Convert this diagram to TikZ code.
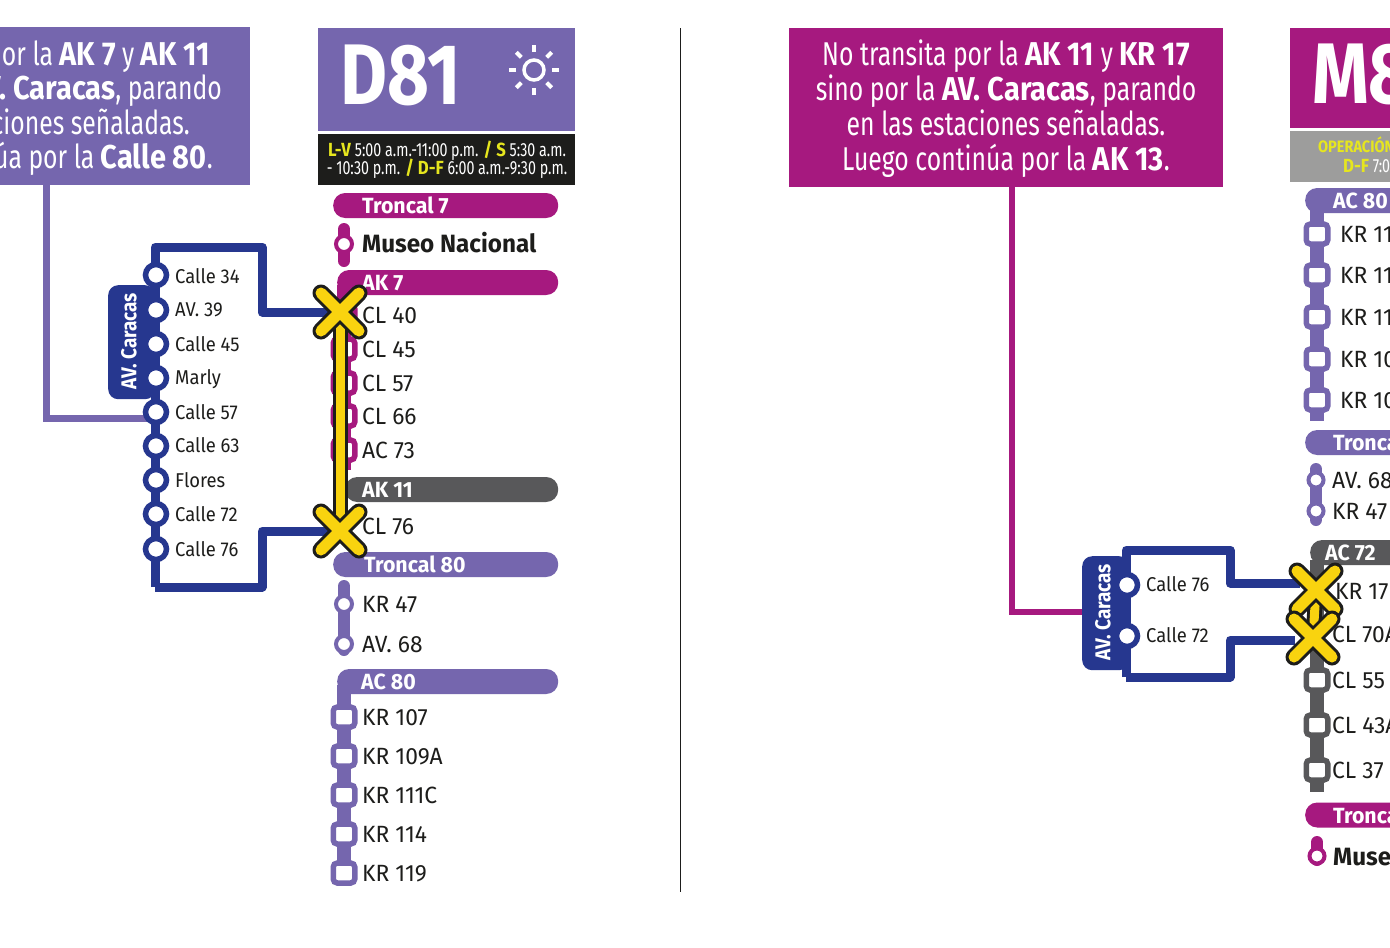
\documentclass[tikz,border=0pt]{standalone}
\usepackage{fontspec}
\newfontfamily\narrowfont{Fira Sans}[UprightFeatures={FakeStretch=0.75}, BoldFeatures={FakeStretch=0.88}]
\newfontfamily\titlefont{Fira Sans}[FakeStretch=0.84]
\newfontfamily\labelfont{Fira Sans}[FakeStretch=0.92]
\newfontfamily\stopfont{Fira Sans}[FakeStretch=0.97]
\definecolor{routepurple}{HTML}{7566AE}
\definecolor{routemagenta}{HTML}{A6197F}
\definecolor{routegray}{HTML}{58585A}
\definecolor{routeblue}{HTML}{26378F}
\definecolor{headgray}{HTML}{9D9D9C}
\definecolor{headblack}{HTML}{1D1D1B}
\definecolor{crossyellow}{HTML}{F9D30F}
\definecolor{timeyellow}{HTML}{E6E61E}
\newcommand{\fsize}[1]{\fontsize{#1}{#1}\selectfont}
\tikzset{
    panel/.style={fill=#1, inner sep=0pt, anchor=north west},
    pill/.style={fill=#1, rounded corners=12pt, minimum height=25pt, inner sep=0pt, anchor=west},
    pilltext/.style={text=white, anchor=west, inner sep=0pt, text height=16pt, text depth=0pt, font=\stopfont\bfseries\fsize{22}},
    trunk/.style={draw=#1, line width=14pt},
    stem/.style={draw=#1, line width=12pt, line cap=round},
    squarestop/.style={draw=#1, fill=white, line width=5.5pt, rounded corners=4pt, minimum width=21.5pt, minimum height=20pt, inner sep=0pt},
    roundstop/.style={draw=#1, fill=white, circle, line width=4pt, minimum size=16pt, inner sep=0pt},
    bluestop/.style={draw=routeblue, fill=white, circle, line width=5.5pt, minimum size=21pt, inner sep=0pt},
    stoptext/.style={text=headblack, anchor=west, inner sep=0pt, text height=16pt, text depth=0pt, font=\stopfont\fsize{23.5}},
    caracastext/.style={text=headblack, anchor=west, inner sep=0pt, text height=14pt, text depth=0pt, font=\labelfont\fsize{20}},
    callouttext/.style={text=white, inner sep=0pt, text height=23pt, text depth=0pt, font=\narrowfont\fsize{33}},
    timetext/.style={text=white, inner sep=0pt, text height=13pt, text depth=0pt, font=\narrowfont\fsize{19}},
    titletext/.style={text=white, anchor=west, inner sep=0pt, text height=58pt, text depth=0pt, font=\titlefont\bfseries\fsize{86}},
    blueline/.style={draw=routeblue, line width=9pt, line join=round},
    feeder/.style={draw=#1, line width=7pt},
    caracastab/.style={fill=routeblue, rounded corners=10pt, inner sep=0pt, anchor=north west, minimum width=47pt, minimum height=114pt},
    taptext/.style={text=white, rotate=90, inner sep=0pt, font=\narrowfont\bfseries\fsize{21.5}},
    crossout/.style={draw=headblack, line width=17pt, line cap=round},
    crossin/.style={draw=crossyellow, line width=11pt, line cap=round},
}
\newcommand{\crossmark}[1]{
    \draw[crossout] (#1) ++(-19,-19) -- ++(38,38);
    \draw[crossout] (#1) ++(-19,19) -- ++(38,-38);
    \draw[crossin] (#1) ++(-19,-19) -- ++(38,38);
    \draw[crossin] (#1) ++(-19,19) -- ++(38,-38);
}
\begin{document}
\begin{tikzpicture}[x=1pt, y=-1pt]

        \useasboundingbox (0,0) rectangle (1390,948);
        \clip (0,0) rectangle (1390,948);
        \fill[white] (0,0) rectangle (1390,948);

        % Divider
        \coordinate (divtop) at (680, 28);
        \coordinate (divbot) at (680, 892);
        \draw [headblack, line width=1pt] (divtop) -- (divbot);

        % Left callout
        \node[panel=routepurple, minimum width=300pt, minimum height=158pt] (leftnote) at (-50, 27){};
        \node[callouttext, anchor=east] (leftlinea) at (210, 54){or la \textbf{AK 7} y \textbf{AK 11}};
        \node[callouttext, anchor=east] (leftlineb) at (222, 88){\textbf{AV. Caracas}, parando};
        \node[callouttext, anchor=east] (leftlinec) at (190, 123){ciones señaladas.};
        \node[callouttext, anchor=east] (leftlined) at (213, 157){úa por la \textbf{Calle 80}.};

        % D81 header
        \node[panel=routepurple, minimum width=257pt, minimum height=103pt] (dhead) at (318, 28){};
        \node[titletext] (dname) at (340, 75){D81};
        \node[draw=white, circle, line width=3.5pt, minimum size=20pt, inner sep=0pt] (sun) at (534, 70){};
        \foreach \a in {0, 45, ..., 315}{
            \draw [white, line width=4pt] (sun) ++(\a:18) -- ++(\a:7);
        }
        \node[panel=headblack, minimum width=257pt, minimum height=51pt] (dtime) at (318, 134){};
        \node[timetext] (dtimea) at (447, 150){\textcolor{timeyellow}{\textbf{L-V}} 5:00 a.m.-11:00 p.m. \textcolor{timeyellow}{\textbf{/ S}} 5:30 a.m.};
        \node[timetext] (dtimeb) at (447, 168){- 10:30 p.m. \textcolor{timeyellow}{\textbf{/ D-F}} 6:00 a.m.-9:30 p.m.};

        % D81 trunks
        \draw [stem=routemagenta] (344, 229) -- (344, 261);
        \draw [trunk=routemagenta] (344, 285) -- (344, 470);
        \draw [stem=routepurple] (344, 586) -- (344, 650);
        \draw [trunk=routepurple] (344, 685) -- (344, 885);

        % D81 pills
        \node[pill=routemagenta, minimum width=225pt] (dpilla) at (333, 205.5){};
        \node[pill=routemagenta, minimum width=221pt] (dpillb) at (337, 282.5){};
        \node[pill=routegray, minimum width=213pt] (dpillc) at (345, 489.5){};
        \node[pill=routepurple, minimum width=225pt] (dpilld) at (333, 564.5){};
        \node[pill=routepurple, minimum width=221pt] (dpille) at (337, 681.5){};
        \node[pilltext] (dpillatext) at (362, 205.5){Troncal 7};
        \node[pilltext] (dpillbtext) at (362, 282.5){AK 7};
        \node[pilltext] (dpillctext) at (362, 489.5){AK 11};
        \node[pilltext] (dpilldtext) at (364, 564.5){Troncal 80};
        \node[pilltext] (dpilletext) at (361, 681.5){AC 80};

        % D81 stops
        \node[roundstop=routemagenta] (dmuseo) at (344, 244){};
        \node[stoptext, font=\stopfont\bfseries\fsize{25}] (dmuseotext) at (362, 244){Museo Nacional};
        \foreach \y/\n in {315/CL 40, 349/CL 45, 383/CL 57, 416/CL 66, 450/AC 73}{
            \node[squarestop=routemagenta] (dm\y) at (344, \y){};
            \node[stoptext] (dm\y text) at (362, \y){\n};
        }
        \node[stoptext] (dcl76text) at (362, 526){CL 76};
        \foreach \y/\n in {604/KR 47, 644/AV. 68}{
            \node[roundstop=routepurple] (dk\y) at (344, \y){};
            \node[stoptext] (dk\y text) at (362, \y){\n};
        }
        \foreach \y/\n in {717/KR 107, 756/KR 109A, 795/KR 111C, 834/KR 114, 873/KR 119}{
            \node[squarestop=routepurple] (dp\y) at (344, \y){};
            \node[stoptext] (dp\y text) at (362, \y){\n};
        }

        % Left detour
        \coordinate (dcrossa) at (340, 312);
        \coordinate (dcrossb) at (340, 531);
        \coordinate (dfeed) at (150, 418);
        \draw [feeder=routepurple] (46, 185) |- (dfeed);
        \node[caracastab] (dtab) at (108, 285){};
        \node[taptext] (dtabtext) at (129, 341){AV. Caracas};
        \draw [blueline] (155, 587) -- (155, 247) -- (262, 247) -- (262, 312) -- (dcrossa);
        \draw [blueline] (155, 587) -- (262, 587) -- (262, 531) -- (dcrossb);
        \foreach \y/\t/\n in {275/276/Calle 34, 310/309/AV. 39, 344/344/Calle 45, 378/377/Marly, 412/412/Calle 57, 446/445/Calle 63, 480/480/Flores, 514/514/Calle 72, 549/549/Calle 76}{
            \node[bluestop] (dc\y) at (156, \y){};
            \node[caracastext] (dc\y text) at (175, \t){\n};
        }
        \draw [headblack, line width=15pt] (dcrossa) -- (dcrossb);
        \draw [crossyellow, line width=9pt] (dcrossa) -- (dcrossb);
        \crossmark{dcrossa}
        \crossmark{dcrossb}

        % Right callout
        \node[panel=routemagenta, minimum width=434pt, minimum height=159pt] (rightnote) at (789, 28){};
        \node[callouttext] (rightlinea) at (1006, 54){No transita por la \textbf{AK 11} y \textbf{KR 17}};
        \node[callouttext] (rightlineb) at (1006, 89){sino por la \textbf{AV. Caracas}, parando};
        \node[callouttext] (rightlinec) at (1006, 124){en las estaciones señaladas.};
        \node[callouttext] (rightlined) at (1006, 159){Luego continúa por la \textbf{AK 13}.};

        % M8 header
        \node[panel=routemagenta, minimum width=120pt, minimum height=100pt] (mhead) at (1290, 28){};
        \node[titletext] (mname) at (1312, 74){M8};
        \node[panel=headgray, minimum width=120pt, minimum height=51pt] (mtime) at (1290, 131){};
        \node[timetext, text=timeyellow, anchor=west, font=\narrowfont\bfseries\fsize{16.5}] (mtimea) at (1318, 146){OPERACIÓN};
        \node[timetext, anchor=west] (mtimeb) at (1343, 166){\textcolor{timeyellow}{\textbf{D-F}} 7:00};

        % M8 trunks
        \draw [trunk=routepurple] (1317, 210) -- (1317, 421);
        \draw [stem=routepurple] (1316, 469) -- (1316, 520);
        \draw [trunk=routegray] (1317, 560) -- (1317, 792);
        \draw [stem=routemagenta] (1317, 842) -- (1317, 860);

        % M8 pills
        \node[pill=routepurple, minimum width=120pt] (mpilla) at (1305, 200.5){};
        \node[pill=routepurple, minimum width=120pt] (mpillb) at (1305, 442.5){};
        \node[pill=routegray, minimum width=120pt] (mpillc) at (1310, 552.5){};
        \node[pill=routemagenta, minimum width=120pt] (mpilld) at (1305, 815){};
        \node[pilltext] (mpillatext) at (1333, 200.5){AC 80};
        \node[pilltext] (mpillbtext) at (1333, 442.5){Troncal 80};
        \node[pilltext] (mpillctext) at (1325, 552.5){AC 72};
        \node[pilltext] (mpilldtext) at (1333, 815){Troncal 7};

        % M8 stops
        \foreach \y/\n in {234/KR 119, 275/KR 114, 317/KR 111C, 359/KR 109A, 400/KR 107}{
            \node[squarestop=routepurple] (mp\y) at (1317, \y){};
            \node[stoptext] (mp\y text) at (1340, \y){\n};
        }
        \foreach \y/\n in {480/AV. 68, 511/KR 47}{
            \node[roundstop=routepurple, minimum size=15pt] (mk\y) at (1316, \y){};
            \node[stoptext] (mk\y text) at (1332, \y){\n};
        }
        \foreach \y/\n in {680/CL 55, 725/CL 43A, 770/CL 37}{
            \node[squarestop=routegray] (mg\y) at (1317, \y){};
            \node[stoptext] (mg\y text) at (1332, \y){\n};
        }
        \node[stoptext] (mkr17text) at (1335, 591){KR 17};
        \node[stoptext] (mcl70text) at (1332, 634){CL 70A};
        \node[roundstop=routemagenta, minimum size=15pt] (mmuseo) at (1317, 856){};
        \node[stoptext, font=\stopfont\bfseries\fsize{25}] (mmuseotext) at (1333, 857){Museo Nacional};

        % Right detour
        \coordinate (mcrossa) at (1316, 590);
        \coordinate (mcrossb) at (1313, 638);
        \coordinate (mjoina) at (1300, 583);
        \coordinate (mjoinb) at (1295, 640);
        \coordinate (mfeed) at (1085, 612);
        \draw [feeder=routemagenta, line width=6pt] (1012, 187) |- (mfeed);
        \node[caracastab] (mtab) at (1082, 556){};
        \node[taptext] (mtabtext) at (1103, 612){AV. Caracas};
        \draw [blueline] (1126, 677) -- (1126, 550) -- (1230, 550) -- (1230, 583) -- (mjoina);
        \draw [blueline] (1126, 677) -- (1230, 677) -- (1230, 640) -- (mjoinb);
        \foreach \y/\t/\n in {585/584/Calle 76, 636/635/Calle 72}{
            \node[bluestop] (mc\y) at (1127, \y){};
            \node[caracastext] (mc\y text) at (1146, \t){\n};
        }
        \draw [headblack, line width=15pt] (mcrossa) -- (mcrossb);
        \draw [crossyellow, line width=9pt] (mcrossa) -- (mcrossb);
        \crossmark{mcrossa}
        \crossmark{mcrossb}

    \end{tikzpicture}
\end{document}
